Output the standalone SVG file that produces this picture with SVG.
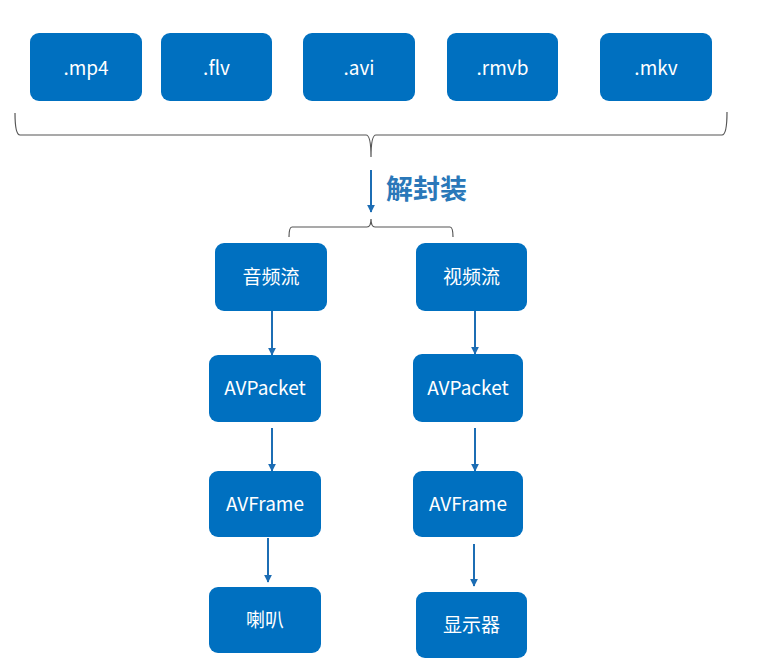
<svg xmlns="http://www.w3.org/2000/svg" width="777" height="666" viewBox="0 0 777 666">
<defs>
<style>
.box{fill:#0070c0;}
.t{fill:#fff;font-family:"Noto Sans CJK SC","Noto Sans",sans-serif;font-size:19px;text-anchor:middle;dominant-baseline:central;}
.br{fill:none;stroke:#555;stroke-width:1.2;}
.ar{fill:none;stroke:#1c6db4;stroke-width:2;marker-end:url(#ah);}
.lbl{fill:#2a78b9;font-family:"Noto Sans CJK SC",sans-serif;font-size:27px;font-weight:bold;dominant-baseline:central;}
</style>
<marker id="ah" viewBox="0 0 10 10" refX="9" refY="5" markerWidth="4" markerHeight="4" orient="auto" markerUnits="strokeWidth">
<path d="M0,0 L10,5 L0,10 z" fill="#1c6db4"/>
</marker>
</defs>
<rect width="777" height="666" fill="#fff"/>
<g id="n-mp4"><rect class="box" x="30" y="33" width="112" height="68" rx="9"/><text class="t" x="86" y="66">.mp4</text></g>
<g id="n-flv"><rect class="box" x="161" y="33" width="111" height="68" rx="9"/><text class="t" x="216.5" y="66">.flv</text></g>
<g id="n-avi"><rect class="box" x="303" y="33" width="112" height="68" rx="9"/><text class="t" x="359" y="66">.avi</text></g>
<g id="n-rmvb"><rect class="box" x="447" y="33" width="111" height="68" rx="9"/><text class="t" x="502.5" y="66">.rmvb</text></g>
<g id="n-mkv"><rect class="box" x="600" y="33" width="112" height="68" rx="9"/><text class="t" x="656" y="66">.mkv</text></g>
<g id="connectors">
<path class="br" d="M15,113 Q15,135 20,135 L366,135 Q371,135 371,157 M371,157 Q371,135 376,135 L722,135 Q727,135 727,112"/>
<line class="ar" x1="371" y1="170" x2="371" y2="212"/>
<path class="br" d="M371,219 Q371,227 367,227 L292,227 Q289,227 289,237 M371,219 Q371,227 375,227 L450,227 Q453,227 453,237"/>
<line class="ar" x1="272" y1="311" x2="272" y2="355"/>
<line class="ar" x1="475" y1="311" x2="475" y2="354"/>
<line class="ar" x1="272" y1="428" x2="272" y2="471"/>
<line class="ar" x1="475" y1="428" x2="475" y2="471"/>
<line class="ar" x1="268" y1="538" x2="268" y2="582"/>
<line class="ar" x1="474" y1="544" x2="474" y2="586"/>
</g>
<text class="lbl" x="386" y="187">解封装</text>
<g id="n-audio"><rect class="box" x="215" y="243" width="112" height="68" rx="9"/><text class="t" x="271" y="275">音频流</text></g>
<g id="n-video"><rect class="box" x="416" y="243" width="111" height="68" rx="9"/><text class="t" x="471.5" y="275">视频流</text></g>
<g id="n-pkt-a"><rect class="box" x="209" y="355" width="112" height="67" rx="9"/><text class="t" x="265" y="386">AVPacket</text></g>
<g id="n-pkt-v"><rect class="box" x="413" y="354" width="110" height="68" rx="9"/><text class="t" x="468" y="386">AVPacket</text></g>
<g id="n-frm-a"><rect class="box" x="209" y="471" width="112" height="66" rx="9"/><text class="t" x="265" y="502">AVFrame</text></g>
<g id="n-frm-v"><rect class="box" x="413" y="471" width="110" height="66" rx="9"/><text class="t" x="468" y="502">AVFrame</text></g>
<g id="n-spk"><rect class="box" x="209" y="587" width="112" height="66" rx="9"/><text class="t" x="265" y="618">喇叭</text></g>
<g id="n-disp"><rect class="box" x="416" y="592" width="111" height="66" rx="9"/><text class="t" x="471.5" y="623">显示器</text></g>
</svg>
